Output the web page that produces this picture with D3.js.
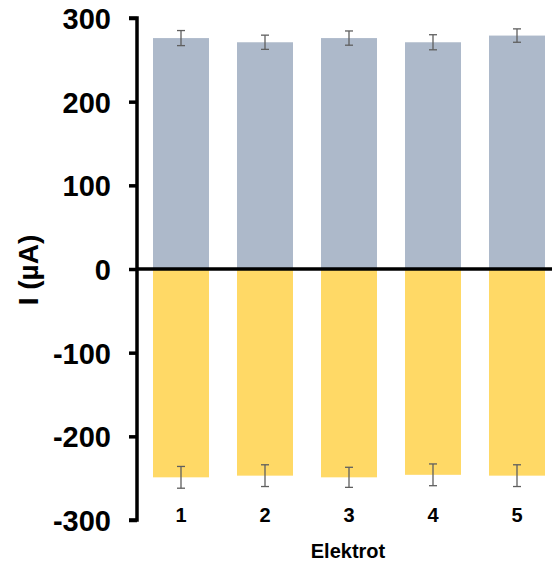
<!DOCTYPE html>
<html><head><meta charset="utf-8">
<script src="https://cdn.jsdelivr.net/npm/d3@7"></script>
<style>html,body{margin:0;padding:0;background:#fff;overflow:hidden}</style>
</head><body>
<svg id="c" width="552" height="568"></svg>
<script>
const categories = ["1","2","3","4","5"];
const positive = [276, 271, 276, 271, 279];
const positiveErr = [9, 8.5, 8.5, 9, 8];
const negative = [-249, -247, -249, -246, -247];
const negativeErr = [13, 13, 12, 13, 13];
const yTicks = [-300, -200, -100, 0, 100, 200, 300];

const svg = d3.select("#c");
const font = "'Liberation Sans', Arial, sans-serif";
const x = d3.scaleBand().domain(categories).range([139, 559]).paddingInner(1/3).paddingOuter(1/6);
const y = d3.scaleLinear().domain([-300, 300]).range([520, 18]);

// bars
svg.selectAll("rect.pos").data(categories).join("rect")
  .attr("x", d => x(d)).attr("width", x.bandwidth())
  .attr("y", (d,i) => y(positive[i])).attr("height", (d,i) => y(0) - y(positive[i]))
  .attr("fill", "#ADB9CA");
svg.selectAll("rect.neg").data(categories).join("rect")
  .attr("x", d => x(d)).attr("width", x.bandwidth())
  .attr("y", y(0)).attr("height", (d,i) => y(negative[i]) - y(0))
  .attr("fill", "#FFD966");

// error bars
function errBars(vals, errs) {
  const g = svg.append("g").attr("stroke", "#5f5f5f").attr("stroke-width", 1.3).attr("fill", "none");
  categories.forEach((c, i) => {
    const cx = x(c) + x.bandwidth()/2;
    const y1 = y(vals[i] + errs[i]), y2 = y(vals[i] - errs[i]);
    g.append("line").attr("x1", cx).attr("x2", cx).attr("y1", y1).attr("y2", y2);
    g.append("line").attr("x1", cx-4).attr("x2", cx+4).attr("y1", y1).attr("y2", y1);
    g.append("line").attr("x1", cx-4).attr("x2", cx+4).attr("y1", y2).attr("y2", y2);
  });
}
errBars(positive, positiveErr);
errBars(negative, negativeErr);

// y axis
const yAxis = d3.axisLeft(y).tickValues(yTicks).tickSize(8).tickPadding(18).tickFormat(d => String(d));
const ga = svg.append("g").attr("transform", "translate(137,0)").call(yAxis);
ga.select(".domain").attr("stroke", "#000").attr("stroke-width", 3.5).attr("d", "M-8," + y(300) + "H0V" + y(-300) + "H-8");
ga.selectAll(".tick line").attr("stroke", "#000").attr("stroke-width", 3.5);
ga.selectAll(".tick text").attr("font-family", font).attr("font-weight", "bold").attr("font-size", 29).attr("fill", "#000").attr("dy", "0.36em");

// zero line
svg.append("line").attr("x1", 137).attr("x2", 552).attr("y1", y(0)).attr("y2", y(0)).attr("stroke", "#000").attr("stroke-width", 3.5);

// x tick labels
svg.selectAll("text.xl").data(categories).join("text")
  .attr("x", d => x(d) + x.bandwidth()/2).attr("y", 522)
  .attr("text-anchor", "middle").attr("font-family", font).attr("font-weight", "bold").attr("font-size", 20)
  .text(d => d);

svg.append("text").attr("x", 348).attr("y", 558).attr("text-anchor", "middle")
  .attr("font-family", font).attr("font-weight", "bold").attr("font-size", 20).text("Elektrot");

svg.append("text").attr("transform", "translate(38,270) rotate(-90)").attr("text-anchor", "middle")
  .attr("font-family", font).attr("font-weight", "bold").attr("font-size", 28).text("I (µA)");
</script>
</body></html>
